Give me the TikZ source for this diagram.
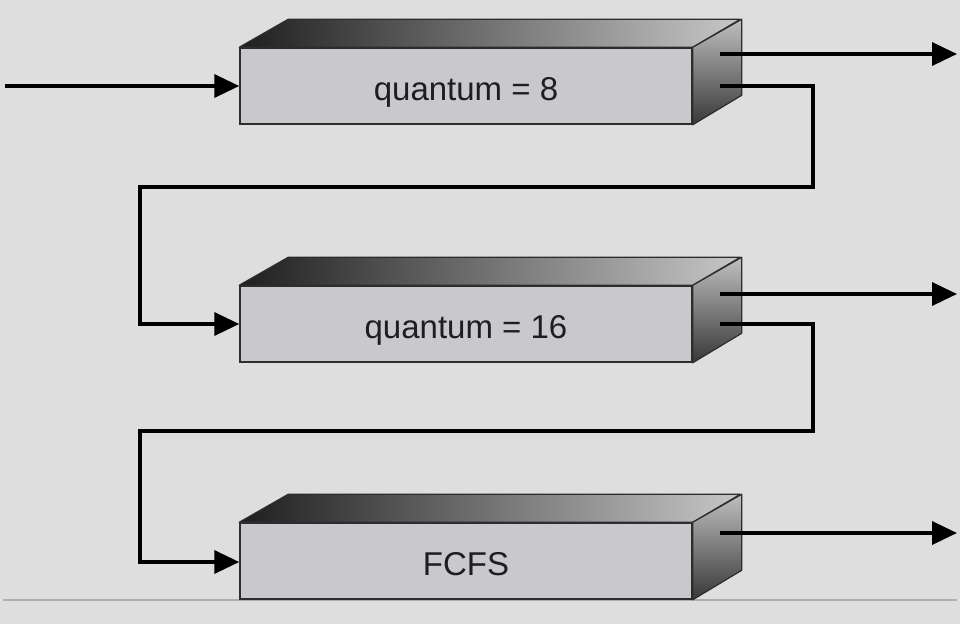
\documentclass[tikz,border=0pt]{standalone}
\usepackage{fontspec}
\setmainfont{Liberation Sans}
\usetikzlibrary{arrows.meta}
\definecolor{bggray}{RGB}{222,222,222}
\definecolor{frontgray}{RGB}{201,201,205}
\definecolor{edgegray}{RGB}{45,45,45}
\definecolor{rulegray}{RGB}{175,175,175}
\definecolor{textgray}{RGB}{30,30,30}
\tikzset{
  front/.style={draw=edgegray, line width=1.5pt, fill=frontgray, minimum width=452pt,
    minimum height=76pt, inner sep=0pt, text height=34pt, text depth=6pt,
    text=textgray, font=\fontsize{33}{38}\selectfont},
  topface/.style={draw=edgegray, line width=1.2pt, line join=round, left color=black!88, right color=black!22},
  sideface/.style={draw=edgegray, line width=1.2pt, line join=round, top color=black!25, bottom color=black!78},
  flow/.style={line width=3.6pt, draw=black, -{Triangle[length=25pt,width=23pt]}},
  baseline rule/.style={draw=rulegray, line width=1.5pt}
}
\newcommand\queuebox[3]{%
  \node[front] (#1) at #2 {#3};
  \shadedraw[topface] (#1.north west) -- ++(49,-28) -- ++(452,0) -- (#1.north east) -- cycle;
  \shadedraw[sideface] (#1.north east) -- ++(49,-28) -- ++(0,76) -- (#1.south east) -- cycle;
}
\begin{document}
\begin{tikzpicture}[x=1pt,y=-1pt]
  \fill[bggray] (0,0) rectangle (960,624);
  \useasboundingbox (0,0) rectangle (960,624);
  % ground rule
  \coordinate (gl) at (3,600);
  \coordinate (gr) at (957,600);
  \draw[baseline rule] (gl) -- (gr);
  % queues
  \queuebox{q1}{(466,86)}{quantum = 8}
  \queuebox{q2}{(466,324)}{quantum = 16}
  \queuebox{q3}{(466,561)}{FCFS}
  % connector end points
  \coordinate (in) at (5,86);
  \coordinate (q1up) at (720,54);
  \coordinate (q1lo) at (720,86);
  \coordinate (q2up) at (720,294);
  \coordinate (q2lo) at (720,324);
  \coordinate (q3up) at (720,533);
  \coordinate (e1) at (957,54);
  \coordinate (e2) at (957,294);
  \coordinate (e3) at (957,533);
  \coordinate (r1) at (813,187);
  \coordinate (l1) at (140,187);
  \coordinate (r2) at (813,431);
  \coordinate (l2) at (140,431);
  % arrows
  \draw[flow] (in) -- (q1.west);
  \draw[flow] (q1up) -- (e1);
  \draw[flow] (q2up) -- (e2);
  \draw[flow] (q3up) -- (e3);
  \draw[flow] (q1lo) -| (r1) -- (l1) |- (q2.west);
  \draw[flow] (q2lo) -| (r2) -- (l2) |- ([yshift=-1pt]q3.west);
\end{tikzpicture}
\end{document}
